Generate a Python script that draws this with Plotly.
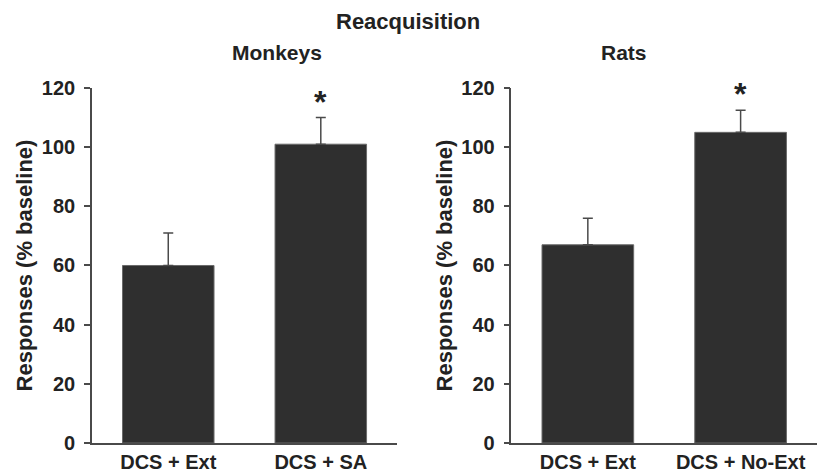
import plotly.graph_objects as go

# Reacquisition responses, % of baseline (mean and upper SEM)
monkey_groups = ["DCS + Ext", "DCS + SA"]
monkey_means = [60, 101]
monkey_sem = [11, 9]

rat_groups = ["DCS + Ext", "DCS + No-Ext"]
rat_means = [67, 105]
rat_sem = [9, 7.5]

y_ticks = [0, 20, 40, 60, 80, 100, 120]

FONT = "Liberation Sans, Arial, sans-serif"
INK = "#222222"
BAR = "#2f2f2f"
AXIS = "#4a4a4a"

fig = go.Figure()

def add_panel(groups, means, sem, xref, yref):
    fig.add_trace(go.Bar(
        x=groups, y=means, xaxis=xref, yaxis=yref, width=0.6,
        marker=dict(color=BAR, line=dict(color="#6a6a6a", width=1)),
        error_y=dict(type="data", array=sem, arrayminus=[0] * len(sem),
                     symmetric=False, color=AXIS, thickness=1.5, width=5),
        showlegend=False,
    ))
    # significance marker above the second group
    fig.add_annotation(
        x=groups[1], y=means[1] + sem[1], xref=xref, yref=yref,
        text="<b>*</b>", showarrow=False, yanchor="bottom", yshift=-4,
        font=dict(family=FONT, size=32, color=INK),
    )

add_panel(monkey_groups, monkey_means, monkey_sem, "x", "y")
add_panel(rat_groups, rat_means, rat_sem, "x2", "y2")

xaxis_style = dict(
    type="category", range=[-0.5, 1.5], showline=True, linecolor=AXIS,
    linewidth=1.5, ticks="", showgrid=False, zeroline=False,
    tickfont=dict(family=FONT, size=20, color=INK), automargin=False,
    ticklabelstandoff=0,
)
yaxis_style = dict(
    range=[0, 120], tickvals=y_ticks,
    ticktext=[f"<b>{v}</b>" for v in y_ticks],
    showline=True, linecolor=AXIS,
    linewidth=1.5, ticks="outside", ticklen=6, tickwidth=1.5, tickcolor=AXIS,
    showgrid=False, zeroline=False, automargin=False, ticklabelstandoff=5,
    tickfont=dict(family=FONT, size=20, color=INK),
    title=dict(text="<b>Responses (% baseline)</b>", standoff=3,
               font=dict(family=FONT, size=22, color=INK)),
)

fig.update_layout(
    width=817, height=473,
    margin=dict(l=0, r=0, t=0, b=0),
    paper_bgcolor="white", plot_bgcolor="white",
    xaxis=dict(**xaxis_style, domain=[0.1126, 0.486], anchor="y",
               ticktext=[f"<b>{g}</b>" for g in monkey_groups],
               tickvals=monkey_groups),
    yaxis=dict(**yaxis_style, domain=[0.0634, 0.814], anchor="x"),
    xaxis2=dict(**xaxis_style, domain=[0.626, 1.0], anchor="y2",
                ticktext=[f"<b>{g}</b>" for g in rat_groups],
                tickvals=rat_groups),
    yaxis2=dict(**yaxis_style, domain=[0.0634, 0.814], anchor="x2"),
    font=dict(family=FONT, color=INK),
)

fig.add_annotation(text="<b>Reacquisition</b>", x=408 / 817, y=1 - 22 / 473,
                   xref="paper", yref="paper", showarrow=False,
                   yanchor="middle",
                   font=dict(family=FONT, size=22, color=INK))
for label, cx in [("Monkeys", 230), ("Rats", 649)]:
    fig.add_annotation(text=f"<b>{label}</b>", x=cx / 817, y=1 - 52 / 473,
                       xref="paper", yref="paper", showarrow=False,
                       yanchor="middle",
                       font=dict(family=FONT, size=21, color=INK))

fig.write_html("out.html")
